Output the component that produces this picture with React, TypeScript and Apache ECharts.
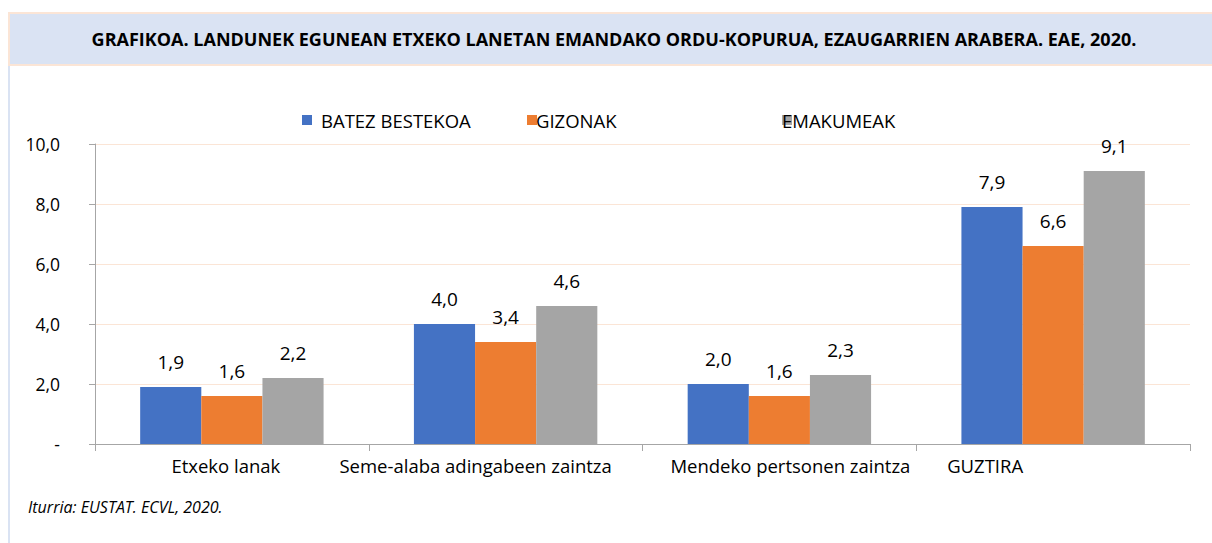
import React, { useEffect, useRef } from "react";
import * as echarts from "echarts";

const categories = [
  "Etxeko lanak",
  "Seme-alaba adingabeen zaintza",
  "Mendeko pertsonen zaintza",
  "GUZTIRA",
];
// horizontal nudges of the category labels, as seen in the reference
const labelPads = [
  [0, 12, 0, 0],
  [0, 60, 0, 0],
  [0, 0, 0, 22],
  [0, 136, 0, 0],
];
const seriesNames = ["BATEZ BESTEKOA", "GIZONAK", "EMAKUMEAK"];
const batezBestekoa = [1.9, 4.0, 2.0, 7.9];
const gizonak = [1.6, 3.4, 1.6, 6.6];
const emakumeak = [2.2, 4.6, 2.3, 9.1];
const seriesColors = ["#4472C4", "#ED7D31", "#A5A5A5"];
const yTicks = { min: 0, max: 10, interval: 2 };

const titleText =
  "GRAFIKOA. LANDUNEK EGUNEAN ETXEKO LANETAN EMANDAKO ORDU-KOPURUA, EZAUGARRIEN ARABERA. EAE, 2020.";
const sourceText = "Iturria: EUSTAT. ECVL, 2020.";

const FONT = "'Open Sans', 'Noto Sans', sans-serif";

const fmt = (v: number) => (v === 0 ? "-" : v.toFixed(1).replace(".", ","));

export default function App() {
  const ref = useRef<HTMLDivElement>(null);
  useEffect(() => {
    if (!ref.current) return;
    const chart = echarts.init(ref.current, undefined, { renderer: "svg" });
    const values = [batezBestekoa, gizonak, emakumeak];
    const legendPos = [
      { left: 302, pad: [0, 0, 0, 4] },
      { left: 527, pad: [0, 0, 0, -6] },
      { left: 782, pad: [0, 0, 0, -15] },
    ];
    chart.setOption({
      animation: false,
      backgroundColor: "#FFFFFF",
      textStyle: { fontFamily: FONT },
      graphic: [
        {
          type: "rect",
          shape: { x: 9, y: 13, width: 1212, height: 52 },
          style: { fill: "#DAE3F3", stroke: "#FBE5D6", lineWidth: 2 },
          silent: true,
        },
        {
          type: "line",
          shape: { x1: 9, y1: 66, x2: 9, y2: 543 },
          style: { stroke: "#DAE3F3", lineWidth: 2 },
          silent: true,
        },
        {
          type: "text",
          x: 614,
          y: 39,
          style: {
            text: titleText,
            fontFamily: FONT,
            fontWeight: "bold",
            fontSize: 18,
            fill: "#000000",
            align: "center",
            verticalAlign: "middle",
          },
          silent: true,
        },
        {
          type: "text",
          x: 28,
          y: 507,
          style: {
            text: sourceText,
            fontFamily: FONT,
            fontStyle: "italic",
            fontSize: 16,
            fill: "#000000",
            align: "left",
            verticalAlign: "middle",
          },
          silent: true,
        },
      ],
      legend: seriesNames.map((n, i) => ({
        data: [n],
        left: legendPos[i].left,
        top: 109,
        padding: 0,
        itemWidth: 10,
        itemHeight: 10,
        icon: "rect",
        selectedMode: false,
        textStyle: {
          fontFamily: FONT,
          fontSize: 18.5,
          color: "#000000",
          lineHeight: 22,
          padding: legendPos[i].pad,
        },
      })),
      grid: { left: 95, right: 22, top: 144, bottom: 99, containLabel: false },
      xAxis: {
        type: "category",
        data: categories.map((c, i) => ({ value: c, textStyle: { padding: labelPads[i] } })),
        axisLine: { show: true, lineStyle: { color: "#A6A6A6", width: 1 } },
        axisTick: { show: true, length: 7, alignWithLabel: false, lineStyle: { color: "#A6A6A6" } },
        axisLabel: { fontFamily: FONT, fontSize: 18.5, color: "#000000", margin: 12, interval: 0 },
      },
      yAxis: {
        type: "value",
        min: yTicks.min,
        max: yTicks.max,
        interval: yTicks.interval,
        axisLine: { show: true, lineStyle: { color: "#A6A6A6", width: 1 } },
        axisTick: { show: true, length: 6, lineStyle: { color: "#A6A6A6" } },
        splitLine: { show: true, lineStyle: { color: "#FBE5D6", width: 1 } },
        axisLabel: {
          fontFamily: FONT,
          fontSize: 17.5,
          color: "#000000",
          margin: 35,
          formatter: (v: number) => fmt(v),
        },
      },
      series: seriesNames.map((n, i) => ({
        name: n,
        type: "bar",
        data: values[i],
        barGap: "0%",
        barCategoryGap: "33%",
        itemStyle: { color: seriesColors[i] },
        label: {
          show: true,
          position: "top",
          distance: 16,
          fontFamily: FONT,
          fontSize: 19,
          color: "#000000",
          formatter: (p: any) => fmt(p.value),
        },
      })),
    });
    return () => chart.dispose();
  }, []);
  return (
    <div
      ref={ref}
      style={{ position: "absolute", left: 0, top: 0, width: 1212, height: 543 }}
    />
  );
}
